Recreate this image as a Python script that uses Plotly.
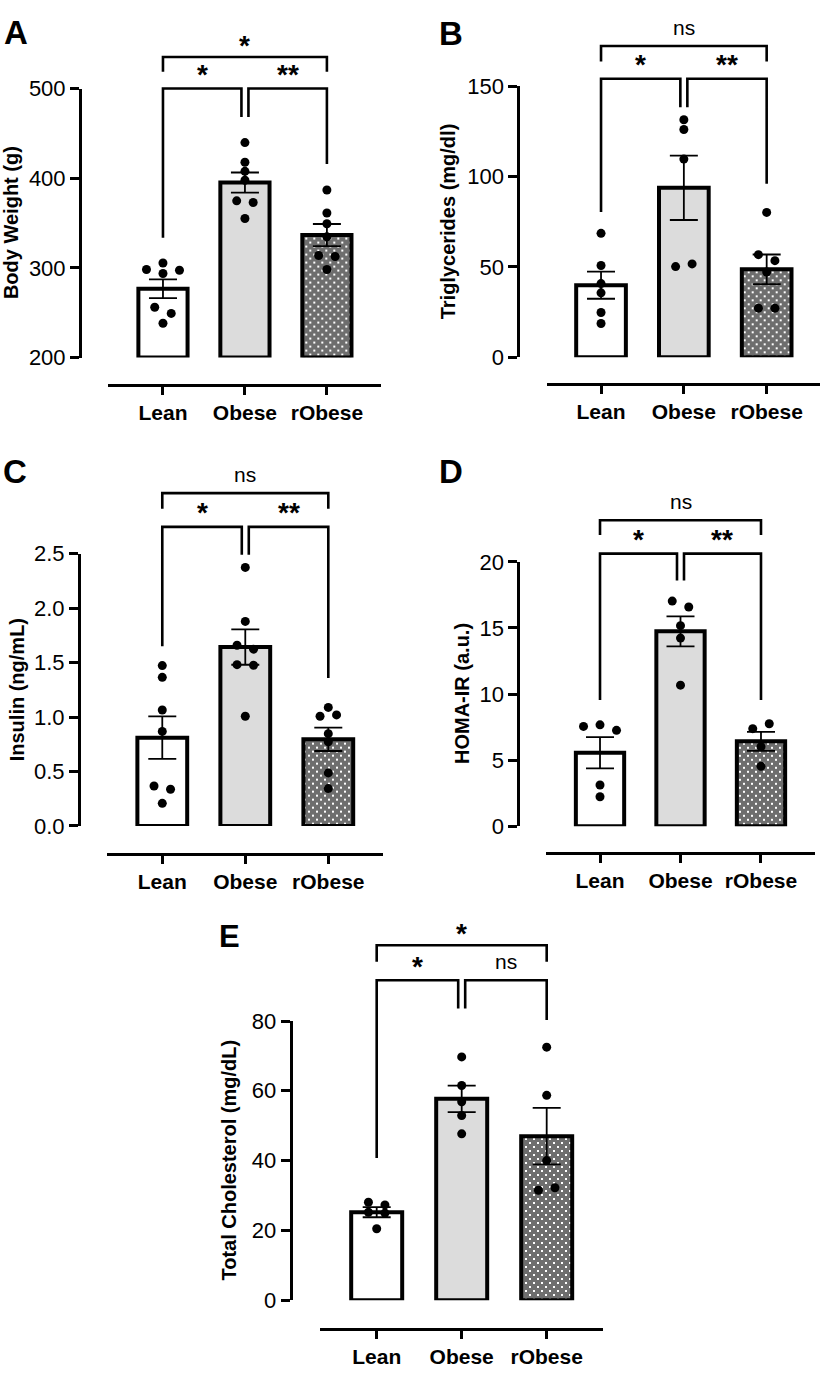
import plotly.graph_objects as go

# ---------------- data ----------------
categories = ["Lean", "Obese", "rObese"]

# A: Body weight (g)
bw_lean = [305.5, 293.8, 297.4, 298.2, 249.3, 256.2, 238.3]
bw_obese = [439.8, 417.9, 407.7, 397.8, 373.0, 374.8, 355.1]
bw_robese = [386.9, 361.3, 349.3, 334.7, 312.8, 313.9, 298.2]
bw_mean = [276.8, 395.2, 336.7]
bw_sem = [10.5, 11.2, 12.3]
bw_sig = ["*", "**", "*"]          # Lean-Obese, Obese-rObese, Lean-rObese

# B: Triglycerides (mg/dl)
tg_lean = [68.6, 50.8, 40.8, 35.7, 24.8, 18.7]
tg_obese = [131.5, 126.1, 109.7, 51.7, 50.2]
tg_robese = [80.2, 53.5, 56.8, 47.2, 27.2, 27.2]
tg_mean = [39.9, 93.8, 48.7]
tg_sem = [7.5, 17.8, 8.2]
tg_sig = ["*", "**", "ns"]

# C: Insulin (ng/mL)
ins_lean = [1.472, 1.364, 1.064, 0.868, 0.337, 0.367, 0.207]
ins_obese = [2.374, 1.878, 1.623, 1.659, 1.475, 1.481, 1.007]
ins_robese = [1.088, 1.019, 1.007, 0.847, 0.772, 0.487, 0.343]
ins_mean = [0.81, 1.642, 0.795]
ins_sem = [0.195, 0.162, 0.107]
ins_sig = ["*", "**", "ns"]

# D: HOMA-IR (a.u.)
homa_lean = [7.67, 7.25, 7.55, 3.12, 2.23]
homa_obese = [16.58, 17.03, 15.17, 14.23, 10.67]
homa_robese = [7.75, 7.38, 6.01, 4.53]
homa_mean = [5.56, 14.74, 6.42]
homa_sem = [1.18, 1.13, 0.72]
homa_sig = ["*", "**", "ns"]

# E: Total cholesterol (mg/dL)
chol_lean = [27.3, 28.05, 24.95, 25.2, 20.45]
chol_obese = [69.7, 61.5, 56.85, 52.9, 47.65]
chol_robese = [72.5, 58.7, 40.0, 32.2, 31.5]
chol_mean = [25.2, 57.7, 47.0]
chol_sem = [1.45, 3.8, 8.1]
chol_sig = ["*", "ns", "*"]

# ---------------- layout / styling ----------------
W, H = 822, 1374
FONT = "Liberation Sans, Arial, sans-serif"
FILLS = ["white", "#dcdcdc", "#6e6e6e"]

panels = [
    dict(letter="A", title="Body Weight (g)", pts=[bw_lean, bw_obese, bw_robese], mean=bw_mean, sem=bw_sem,
         sig=bw_sig, xdom=(108.3, 381.0), xr=(-0.667, 2.66), ydom=(78.0, 352.0), yr=(200, 500),
         ytick=[200, 300, 400, 500], yfmt="", ylinex=80.0, xliney=380.0,
         letter_pos=(2, 8), letter_size=33, title_x=11,
         br=dict(top=535.2, tick=518.7, low=500.1, legs=(333.6, 468.3, 415.8))),
    dict(letter="B", title="Triglycerides (mg/dl)", pts=[tg_lean, tg_obese, tg_robese], mean=tg_mean, sem=tg_sem,
         sig=tg_sig, xdom=(546.7, 820.0), xr=(-0.656, 2.644), ydom=(75.7, 351.7), yr=(0, 150),
         ytick=[0, 50, 100, 150], yfmt="", ylinex=518.3, xliney=379.0,
         letter_pos=(437, 9), letter_size=33, title_x=447.5,
         br=dict(top=172.3, tick=163.8, low=154.2, legs=(80.4, 138.4, 96.1))),
    dict(letter="C", title="Insulin (ng/mL)", pts=[ins_lean, ins_obese, ins_robese], mean=ins_mean, sem=ins_sem,
         sig=ins_sig, xdom=(107.0, 383.0), xr=(-0.666, 2.659), ydom=(551.7, 829.0), yr=(0, 2.5),
         ytick=[0, 0.5, 1.0, 1.5, 2.0, 2.5], yfmt=".1f", ylinex=79.0, xliney=857.7,
         letter_pos=(1, 455), letter_size=33, title_x=16.5,
         br=dict(top=3.056, tick=2.912, low=2.746, legs=(1.650, 2.491, 1.358))),
    dict(letter="D", title="HOMA-IR (a.u.)", pts=[homa_lean, homa_obese, homa_robese], mean=homa_mean, sem=homa_sem,
         sig=homa_sig, xdom=(546.0, 815.0), xr=(-0.671, 2.671), ydom=(560.0, 829.3), yr=(0, 20),
         ytick=[0, 5, 10, 15, 20], yfmt="", ylinex=518.3, xliney=856.7,
         letter_pos=(437, 455), letter_size=33, title_x=462,
         br=dict(top=23.14, tick=22.03, low=20.62, legs=(9.55, 18.59, 9.55))),
    dict(letter="E", title="Total Cholesterol (mg/dL)", pts=[chol_lean, chol_obese, chol_robese], mean=chol_mean,
         sem=chol_sem, sig=chol_sig, xdom=(320.0, 603.3), xr=(-0.667, 2.666), ydom=(1027.7, 1312.0), yr=(0, 80),
         ytick=[0, 20, 40, 60, 80], yfmt="", ylinex=290.7, xliney=1341.7,
         letter_pos=(217, 930), letter_size=31, title_x=229,
         br=dict(top=101.7, tick=97.0, low=91.7, legs=(40.7, 83.6, 80.3))),
]


def swarm_offsets(vals, px_per_unit, px_per_cat, row_px=8.0, step_px=16.5):
    """GraphPad-like scatter: points close in value share a row and are spread symmetrically."""
    order = sorted(range(len(vals)), key=lambda i: (vals[i], i))
    rows = []
    for i in order:
        if rows and (vals[i] - vals[rows[-1][0]]) * px_per_unit < row_px:
            rows[-1].append(i)
        else:
            rows.append([i])
    offs = [0.0] * len(vals)
    for row in rows:
        row = sorted(row)
        n = len(row)
        if n % 2:
            slots = [0] + [s for k in range(1, n // 2 + 1) for s in (k, -k)]
        else:
            slots = [s for k in range(n // 2) for s in (k + 0.5, -(k + 0.5))]
        for idx, s in zip(row, slots):
            offs[idx] = s * step_px / px_per_cat
    return offs


fig = go.Figure()
shapes, annotations = [], []
layout_axes = {}

for k, p in enumerate(panels):
    n = k + 1
    xa = "x" if n == 1 else f"x{n}"
    ya = "y" if n == 1 else f"y{n}"
    xdom0, xdom1 = p["xdom"]
    ydom0, ydom1 = p["ydom"]
    xr0, xr1 = p["xr"]
    yr0, yr1 = p["yr"]
    px_per_cat = (xdom1 - xdom0) / (xr1 - xr0)
    px_per_unit = (ydom1 - ydom0) / (yr1 - yr0)

    def to_px(x, y, xdom0=xdom0, ydom1=ydom1, xr0=xr0, yr0=yr0, ppc=px_per_cat, ppu=px_per_unit):
        return xdom0 + (x - xr0) * ppc, ydom1 - (y - yr0) * ppu

    def paper(xpx, ypx):
        return xpx / W, 1 - ypx / H

    base = yr0
    # bars
    for i, cat in enumerate(categories):
        marker = dict(color=FILLS[i], line=dict(color="black", width=4))
        if i == 2:
            marker["pattern"] = dict(path="M1,1H3V3H1Z M5,5H7V7H5Z", fgcolor="white", bgcolor=FILLS[i],
                                     size=8, fillmode="replace")
        fig.add_trace(go.Bar(x=[i], y=[p["mean"][i] - base], base=[base], width=0.6, marker=marker,
                             xaxis=xa, yaxis=ya, cliponaxis=False, showlegend=False, name=cat))
    # individual points
    for i, vals in enumerate(p["pts"]):
        offs = swarm_offsets(vals, px_per_unit, px_per_cat)
        fig.add_trace(go.Scatter(x=[i + o for o in offs], y=vals, mode="markers",
                                 marker=dict(color="black", size=9), xaxis=xa, yaxis=ya,
                                 cliponaxis=False, showlegend=False))
    # mean +/- SEM
    fig.add_trace(go.Scatter(x=[0, 1, 2], y=p["mean"], mode="markers",
                             marker=dict(color="rgba(0,0,0,0)", size=1),
                             error_y=dict(type="data", array=p["sem"], visible=True, color="black",
                                          thickness=1.8, width=14),
                             xaxis=xa, yaxis=ya, cliponaxis=False, showlegend=False))

    layout_axes["xaxis" if n == 1 else f"xaxis{n}"] = dict(
        domain=[xdom0 / W, xdom1 / W], range=[xr0, xr1], anchor="free", position=1 - p["xliney"] / H,
        showline=True, linewidth=3, linecolor="black", ticks="outside", ticklen=8, tickwidth=2.5,
        tickcolor="black", tickvals=[0, 1, 2], ticktext=categories, showgrid=False, zeroline=False,
        tickfont=dict(family=FONT, size=21, color="black", weight="bold"), fixedrange=True)
    layout_axes["yaxis" if n == 1 else f"yaxis{n}"] = dict(
        domain=[1 - ydom1 / H, 1 - ydom0 / H], range=[yr0, yr1], anchor="free", position=p["ylinex"] / W,
        showline=True, linewidth=3, linecolor="black", ticks="outside", ticklen=9, tickwidth=2.5,
        tickcolor="black", tickvals=p["ytick"], tickformat=p["yfmt"], showgrid=False, zeroline=False,
        tickfont=dict(family=FONT, size=22, color="black"), fixedrange=True)

    # significance brackets
    br = p["br"]
    g = 3.5 / px_per_cat
    lw = dict(color="black", width=2.6)

    def path(points):
        s = ""
        for j, (x, y) in enumerate(points):
            xp, yp = paper(*to_px(x, y))
            s += ("M" if j == 0 else "L") + f"{xp:.6f},{yp:.6f} "
        return s.strip()

    shapes.append(dict(type="path", xref="paper", yref="paper", line=lw,
                       path=path([(0, br["tick"]), (0, br["top"]), (2, br["top"]), (2, br["tick"])])))
    shapes.append(dict(type="path", xref="paper", yref="paper", line=lw,
                       path=path([(0, br["legs"][0]), (0, br["low"]), (1 - g, br["low"]), (1 - g, br["legs"][1])])))
    shapes.append(dict(type="path", xref="paper", yref="paper", line=lw,
                       path=path([(1 + g, br["legs"][1]), (1 + g, br["low"]), (2, br["low"]), (2, br["legs"][2])])))

    def sig_label(text, x, y, above):
        xpx, ypx = to_px(x, y)
        ypx -= above
        xp, yp = paper(xpx, ypx)
        if "*" in text:
            font = dict(family=FONT, size=28, color="black", weight="bold")
            shift = -5.6
        else:
            font = dict(family=FONT, size=21, color="black")
            shift = 1.8
        annotations.append(dict(text=text, x=xp, y=yp, xref="paper", yref="paper", showarrow=False,
                                xanchor="center", yanchor="middle", yshift=shift, font=font))

    sig_label(p["sig"][2], 1, br["top"], 17.5)
    sig_label(p["sig"][0], (1 - g) / 2, br["low"], 20 if "*" in p["sig"][0] else 17)
    sig_label(p["sig"][1], (3 + g) / 2, br["low"], 20 if "*" in p["sig"][1] else 17)

    # panel letter
    lx, ly = p["letter_pos"]
    fs = p["letter_size"]
    annotations.append(dict(text=p["letter"], x=lx / W, y=1 - (ly - 2 - 0.189 * fs) / H, xref="paper", yref="paper",
                            showarrow=False, xanchor="left", yanchor="top",
                            font=dict(family=FONT, size=fs, color="black", weight="bold")))
    # y-axis title
    annotations.append(dict(text=p["title"], x=p["title_x"] / W, y=1 - (ydom0 + ydom1) / 2 / H,
                            xref="paper", yref="paper", showarrow=False, textangle=-90,
                            xanchor="center", yanchor="middle",
                            font=dict(family=FONT, size=20, color="black", weight="bold")))

fig.update_layout(width=W, height=H, margin=dict(l=0, r=0, t=0, b=0), autosize=False,
                  paper_bgcolor="white", plot_bgcolor="white", barmode="overlay", showlegend=False,
                  shapes=shapes, annotations=annotations, **layout_axes)

fig.write_html(
    "out.html",
    config={"displayModeBar": False, "responsive": False},
    post_script=("document.documentElement.style.margin='0';document.body.style.margin='0';"
                 "document.body.style.overflow='hidden';"
                 "var d=document.getElementById('{plot_id}');"
                 "d.style.position='fixed';d.style.left='0px';d.style.top='0px';"),
)
